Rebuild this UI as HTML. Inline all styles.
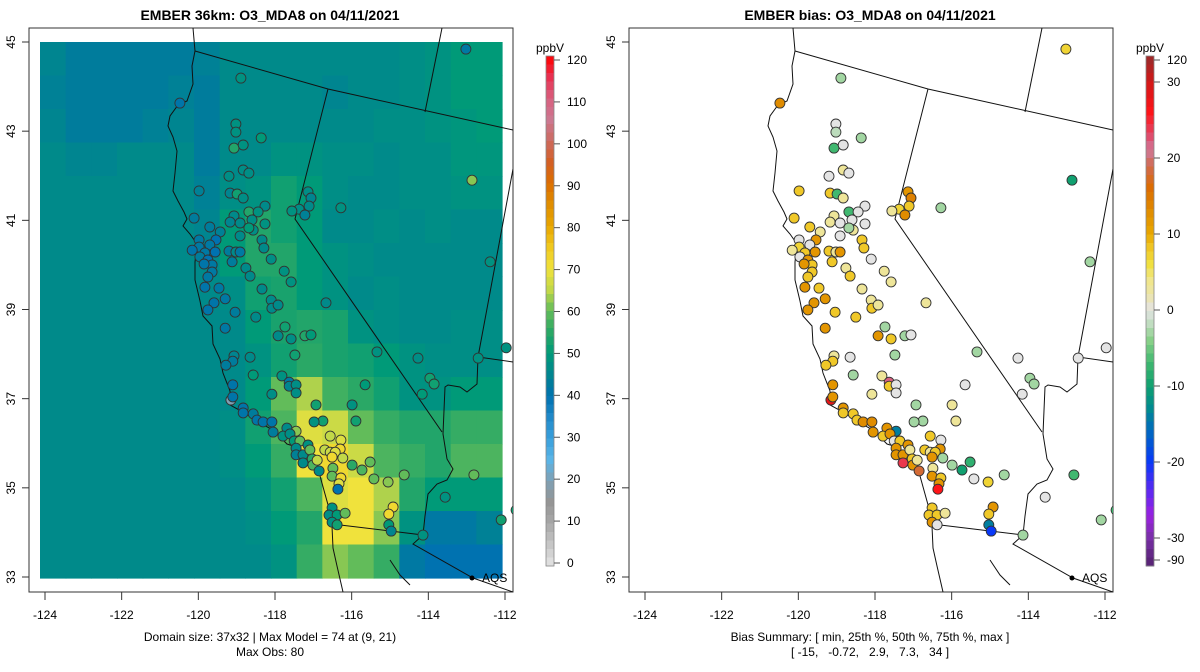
<!DOCTYPE html>
<html><head><meta charset="utf-8">
<style>
html,body{margin:0;padding:0;background:#fff;}
svg{display:block;font-family:"Liberation Sans",sans-serif;}
</style></head>
<body>
<svg id="chart" width="1200" height="672" viewBox="0 0 1200 672" xmlns="http://www.w3.org/2000/svg">
<defs>
<clipPath id="clipL"><rect x="29" y="28" width="484" height="564"/></clipPath>
<clipPath id="clipR"><rect x="629" y="28" width="484" height="564"/></clipPath>
</defs>
<text x="270" y="20" text-anchor="middle" font-size="14" font-weight="bold">EMBER 36km: O3_MDA8 on 04/11/2021</text>
<text x="870" y="20" text-anchor="middle" font-size="14" font-weight="bold">EMBER bias: O3_MDA8 on 04/11/2021</text>
<g id="left"></g>
<g id="right"></g>
<text x="270" y="641" text-anchor="middle" font-size="12">Domain size: 37x32 | Max Model = 74 at (9, 21)</text>
<text x="270" y="656" text-anchor="middle" font-size="12">Max Obs: 80</text>
<text x="870" y="641" text-anchor="middle" font-size="12">Bias Summary: [ min, 25th %, 50th %, 75th %, max ]</text>
<text x="870" y="656" text-anchor="middle" font-size="12" xml:space="preserve">[ -15,   -0.72,   2.9,   7.3,   34 ]</text>
</svg>
<script>
// ---- data ----
const xTicks=[-124,-122,-120,-118,-116,-114,-112];
const yTicks=[33,35,37,39,41,43,45];
const obsBarTicks=[0,10,20,30,40,50,60,70,80,90,100,110,120];
const biasBarTicks=[-90,-30,-20,-10,0,10,20,30,120];
const fieldGrid=[
[45,43,43,43,43,43,44,46,46,46,46,46,46,46,47,48,50,50],
[44,43,43,43,43,44,43,46,46,46,46,45,46,46,47,48,50,50],
[45,43,43,43,44,45,43,46,46,46,46,46,46,47,47,48,49,50],
[46,45,45,46,46,46,43,46,46,48,48,47,47,46,47,47,49,49],
[46,46,46,46,46,46,44,47,48,52,50,47,46,46,47,47,48,48],
[46,46,46,46,46,46,45,50,54,52,50,46,46,47,46,47,46,46],
[46,46,46,46,46,46,46,50,54,54,50,48,47,46,46,46,46,46],
[46,46,46,46,46,46,46,47,52,53,50,48,46,47,46,46,46,46],
[46,46,46,46,46,46,46,46,50,53,54,53,48,47,46,46,47,47],
[46,46,46,46,46,46,46,46,48,52,55,53,52,50,48,47,47,47],
[46,46,46,46,46,46,46,46,50,60,64,57,55,52,48,48,50,50],
[46,46,46,46,46,46,46,47,52,58,68,66,60,56,54,54,56,56],
[46,46,46,46,46,46,46,47,50,56,70,72,66,58,56,54,58,58],
[46,46,46,46,46,46,46,46,48,52,58,68,70,64,54,50,50,50],
[46,46,46,46,46,46,46,46,47,50,54,70,70,62,48,42,42,44],
[46,46,46,46,46,46,46,46,46,48,56,62,60,56,42,40,40,40]];
const stLon=[-118.89,-120.48,-119.02,-119.02,-118.36,-119.07,-118.83,-118.83,-119.20,-118.68,-119.98,-119.17,-118.99,-118.83,-117.14,-117.06,-117.11,-117.37,-117.56,-117.22,-116.28,-120.11,-118.26,-118.68,-118.44,-119.07,-119.17,-118.91,-118.60,-118.57,-118.26,-118.68,-119.70,-119.43,-119.54,-119.98,-119.70,-118.91,-119.56,-119.98,-119.83,-119.96,-119.75,-119.64,-119.20,-119.02,-118.91,-118.34,-118.29,-118.10,-119.12,-119.85,-119.64,-119.75,-118.76,-118.65,-117.76,-117.58,-119.46,-119.83,-118.34,-119.30,-119.59,-119.75,-118.10,-118.08,-117.92,-119.04,-118.50,-119.30,-116.67,-117.74,-117.22,-117.06,-117.92,-117.58,-119.07,-118.65,-117.48,-119.10,-119.28,-118.57,-117.82,-117.63,-117.63,-117.45,-117.45,-119.10,-118.08,-119.15,-119.10,-118.83,-118.83,-118.57,-118.47,-118.31,-118.08,-118.05,-115.99,-116.93,-115.34,-114.27,-115.89,-116.75,-116.98,-117.69,-117.45,-117.79,-117.61,-117.50,-117.35,-117.45,-117.14,-117.45,-117.27,-117.27,-117.09,-117.03,-117.01,-116.90,-116.70,-116.56,-116.28,-116.30,-116.56,-116.43,-116.51,-116.23,-115.99,-115.73,-115.52,-115.42,-115.05,-114.63,-116.85,-116.49,-116.51,-116.28,-116.33,-116.36,-116.51,-116.59,-116.38,-116.17,-116.51,-116.38,-114.92,-115.03,-115.03,-114.97,-114.14,-113.02,-112.86,-112.39,-113.96,-113.85,-114.16,-112.70,-111.97,-112.81,-112.10,-113.56,-115.65,-120.16,-111.71];
const stLat=[44.19,43.63,43.16,42.98,42.85,42.62,42.69,42.13,41.99,42.06,41.66,41.61,41.59,41.50,41.64,41.50,41.32,41.25,41.21,41.12,41.28,41.05,41.32,41.19,41.19,41.10,40.96,40.94,41.01,40.78,40.92,40.83,40.85,40.74,40.56,40.56,40.45,40.65,40.29,40.40,40.27,40.18,40.11,40.00,40.31,40.29,40.29,40.56,40.38,40.13,40.07,40.02,39.84,39.73,39.93,39.75,39.86,39.62,39.48,39.50,39.46,39.24,39.15,38.99,39.21,39.03,39.10,38.94,38.83,38.58,39.15,38.61,38.41,38.43,38.41,38.34,37.96,37.93,37.98,37.84,37.75,37.53,37.51,37.37,37.28,37.31,37.13,37.31,37.10,36.97,37.04,36.79,36.68,36.66,36.52,36.48,36.48,36.25,36.86,36.86,38.05,37.91,36.50,36.50,36.48,36.34,36.27,36.16,36.21,36.05,36.05,35.89,35.96,35.74,35.74,35.56,35.85,35.65,35.51,35.62,35.85,36.16,36.07,35.87,35.80,35.80,35.69,35.67,35.51,35.40,35.58,35.20,35.13,35.29,35.38,35.44,35.26,35.22,35.09,34.97,34.55,34.39,34.39,34.43,34.23,34.17,34.57,34.41,34.17,34.03,33.94,44.84,41.90,40.07,37.46,37.33,37.10,37.91,38.14,35.29,34.28,34.79,37.31,40.33,34.50];
const stObs=[48,41,48,48,50,54,48,47,47,47,44,45,52,47,47,45,46,47,48,44,48,43,46,54,48,46,45,46,47,47,48,50,43,44,40,42,42,46,40,42,42,43,40,42,43,46,42,46,46,47,43,41,42,42,46,46,48,48,42,41,46,42,41,41,46,46,46,43,46,42,46,52,54,50,46,47,45,46,52,43,43,50,48,42,45,47,47,41,47,20,41,41,41,43,41,41,41,43,48,52,48,47,52,52,48,46,62,48,47,50,60,46,48,44,46,46,60,55,58,65,65,65,68,72,66,68,72,65,55,58,60,60,62,60,46,60,60,72,68,40,48,47,50,60,48,52,72,72,50,45,48,42,62,48,52,52,50,48,48,60,52,48,50,41,52];
const stBias=[-3,13,0,-2,-3,-7,0,3,0,0,8,8,-7,3,12,14,8,7,3,13,-3,8,0,-7,0,3,3,0,0,3,0,-3,8,3,12,0,0,0,12,7,8,0,12,8,8,3,12,8,8,0,8,12,8,8,3,8,3,3,8,12,3,12,12,12,3,8,3,8,8,12,3,-3,-3,0,12,8,3,0,-3,8,8,-3,3,22,8,0,0,12,3,28,12,12,8,8,8,13,13,12,3,-3,-3,0,3,-3,-3,12,-14,8,12,0,8,12,12,12,12,24,3,8,12,3,8,8,0,12,3,8,12,-3,-3,-10,-8,0,7,-3,18,3,12,8,12,26,8,8,8,3,12,0,12,8,-14,-20,-3,7,-10,-3,-3,-3,0,0,0,-7,-3,0,0,3,-7];
const obsStops=[[0,'#e4e4e4'],[10,'#a8a8a8'],[15,'#959595'],[20,'#7fa0b4'],[25,'#5ab4e6'],[30,'#3aa0dc'],[35,'#2088c8'],[40,'#0072b0'],[43,'#007c9c'],[46,'#008a8a'],[50,'#009a78'],[55,'#2aa866'],[60,'#62bc5a'],[65,'#c2d848'],[70,'#f0e23c'],[75,'#f0c81e'],[80,'#e8a600'],[85,'#e08e00'],[90,'#dc6e00'],[95,'#d46024'],[100,'#cc6a60'],[105,'#cc7890'],[110,'#d86080'],[115,'#e83050'],[120,'#ff0000']];
const biasStops=[[-90,'#5a2478'],[-30,'#7a30a8'],[-27,'#9a20e0'],[-24,'#6028f0'],[-20,'#0838f8'],[-16,'#0068c0'],[-13,'#008a90'],[-10,'#10a070'],[-7,'#40b870'],[-4,'#88d088'],[-2,'#bcdcbc'],[0,'#e4e4e4'],[2,'#ece4a8'],[4,'#f0e68a'],[6,'#f0e040'],[8,'#f0c828'],[10,'#e8a800'],[13,'#e08c00'],[16,'#dc6c00'],[19,'#d06a50'],[21,'#d07898'],[23,'#e04868'],[26,'#ff1418'],[30,'#d01818'],[120,'#a02828']];
// ---- helpers ----
const NS='http://www.w3.org/2000/svg';
function mk(tag,attrs,parent){const e=document.createElementNS(NS,tag);for(const k in attrs)e.setAttribute(k,attrs[k]);if(parent)parent.appendChild(e);return e;}
function hex(c){return [parseInt(c.slice(1,3),16),parseInt(c.slice(3,5),16),parseInt(c.slice(5,7),16)];}
function cmap(stops,v){if(v<=stops[0][0])return stops[0][1];for(let i=1;i<stops.length;i++){if(v<=stops[i][0]){const a=stops[i-1],b=stops[i];const t=(v-a[0])/(b[0]-a[0]);const ca=hex(a[1]),cb=hex(b[1]);return 'rgb('+ca.map((x,j)=>Math.round(x+(cb[j]-x)*t)).join(',')+')';}}return stops[stops.length-1][1];}
function xScale(off,lon){return off+45+(lon+124)*(460/12);}
function yScale(lat){return 42+(45-lat)*(535/12);}
// basemap polylines (pixel coords relative to left panel)
const coast=[[193,28],[195,51],[192,66],[193,84],[187,101],[178,105],[170,116],[168,126],[173,137],[177,151],[175,173],[173,191],[178,201],[184,212],[187,219],[183,226],[190,234],[197,244],[195,262],[195,280],[200,301],[203,316],[212,326],[213,344],[220,359],[223,373],[230,391],[230,405],[243,412],[260,423],[273,430],[287,444],[300,448],[310,462],[320,476],[325,494],[330,512],[332,526],[333,548],[337,566],[343,592]];
const borders=[
[[195,51],[328,89],[513,130]],
[[442,28],[425,112]],
[[513,169],[478,357],[513,362]],
[[328,89],[295,219],[442,432]],
[[478,357],[477,384],[467,392],[460,387],[448,385],[445,387],[443,434],[447,459],[453,469],[447,480],[437,484],[428,494],[425,516],[423,535]],
[[332,524],[423,535],[413,544],[473,578],[513,592]],
[[390,560],[400,575],[410,585]]];
function panel(g,off,isBias){
  const clip=isBias?'url(#clipR)':'url(#clipL)';
  const frame=mk('rect',{x:off+29,y:28,width:484,height:564,fill:'none',stroke:'#333','stroke-width':1},g);
  
  
  const inner=mk('g',{'clip-path':clip},g);
  if(!isBias){
    const rows=fieldGrid.length,cols=fieldGrid[0].length;
    const x0=off+40,x1=off+502,y0=42,y1=578;
    const cw=(x1-x0)/cols,ch=(y1-y0)/rows;
    const fg=mk('g',{},inner);
    
    
    fieldGrid.forEach((row,r)=>row.forEach((v,c)=>{
      const cell=mk('rect',{x:(x0+c*cw).toFixed(2),y:(y0+r*ch).toFixed(2),width:(cw+0.6).toFixed(2),height:(ch+0.6).toFixed(2),fill:cmap(obsStops,v)},fg);
      
      
    }));
  }
  const pts=coast.map(p=>(p[0]+off)+','+p[1]).join(' ');
  const cl=mk('polyline',{points:pts,fill:'none',stroke:'#111','stroke-width':1},inner);
  
  
  borders.forEach(b=>{
    const bl=mk('polyline',{points:b.map(p=>(p[0]+off)+','+p[1]).join(' '),fill:'none',stroke:'#111','stroke-width':1},inner);
    
    
  });
  const sg=mk('g',{},inner);
  
  
  for(let i=0;i<stLon.length;i++){
    const v=isBias?stBias[i]:stObs[i];
    const c=mk('circle',{cx:xScale(off,stLon[i]).toFixed(1),cy:yScale(stLat[i]).toFixed(1),r:5,fill:cmap(isBias?biasStops:obsStops,v),stroke:'#333','stroke-width':0.9},sg);
    
    
  }
  const ax=off+472;
  const ad=mk('circle',{cx:ax,cy:578,r:2.5,fill:'#000'},g);
  
  
  const at=mk('text',{x:ax+10,y:582,'font-size':12},g);at.textContent='AQS';
  
  
  const xa=mk('g',{},g);
  
  
  xTicks.forEach(t=>{const x=xScale(off,t);
    mk('line',{x1:x,y1:592,x2:x,y2:600,stroke:'#333'},xa);
    const tx=mk('text',{x:x,y:619,'text-anchor':'middle','font-size':12},xa);tx.textContent=t;
    
    });
  const ya=mk('g',{},g);
  
  
  yTicks.forEach(t=>{const y=yScale(t);
    mk('line',{x1:off+22,y1:y,x2:off+29,y2:y,stroke:'#333'},ya);
    const tx=mk('text',{x:off+15,y:y,'text-anchor':'middle','font-size':12,transform:'rotate(-90 '+(off+15)+' '+y+')'},ya);tx.textContent=t;
    
    });
  const cb=mk('g',{},g);
  
  
  const bx=isBias?1146:546,top=56,bot=566,n=60;
  const hh=(bot-top)/n;
  for(let k=0;k<n;k++){
    let v;
    if(!isBias){v=120-(k+0.5)*(120/n);}
    else{const yy=top+(k+0.5)*hh;v=biasFromY(yy);}
    mk('rect',{x:bx,y:(top+k*hh).toFixed(2),width:8,height:(hh+0.5).toFixed(2),fill:isBias?cmap(biasStops,v):cmap(obsStops,v)},cb);
  }
  mk('rect',{x:bx,y:top,width:8,height:bot-top,fill:'none',stroke:'#888','stroke-width':0.8},cb);
  const ticks=isBias?biasBarTicks:obsBarTicks;
  ticks.forEach(t=>{const y=isBias?biasY(t):(563-(t/120)*503);
    mk('line',{x1:bx+8,y1:y,x2:bx+14,y2:y,stroke:'#555'},cb);
    const tx=mk('text',{x:bx+21,y:y+4,'font-size':12},cb);tx.textContent=t;
    
    });
  const u=mk('text',{x:bx+4,y:52,'text-anchor':'middle','font-size':12},cb);u.textContent='ppbV';
  
  
}
function biasY(v){ if(v>=30) return 82-(v-30)/90*22; if(v<=-30) return 538+(-30-v)/60*22; return 310-v*7.6;}
function biasFromY(y){ if(y<82) return 30+(82-y)/22*90; if(y>538) return -30-(y-538)/22*60; return (310-y)/7.6;}
panel(document.getElementById('left'),0,false);
panel(document.getElementById('right'),600,true);
</script>
</body></html>
